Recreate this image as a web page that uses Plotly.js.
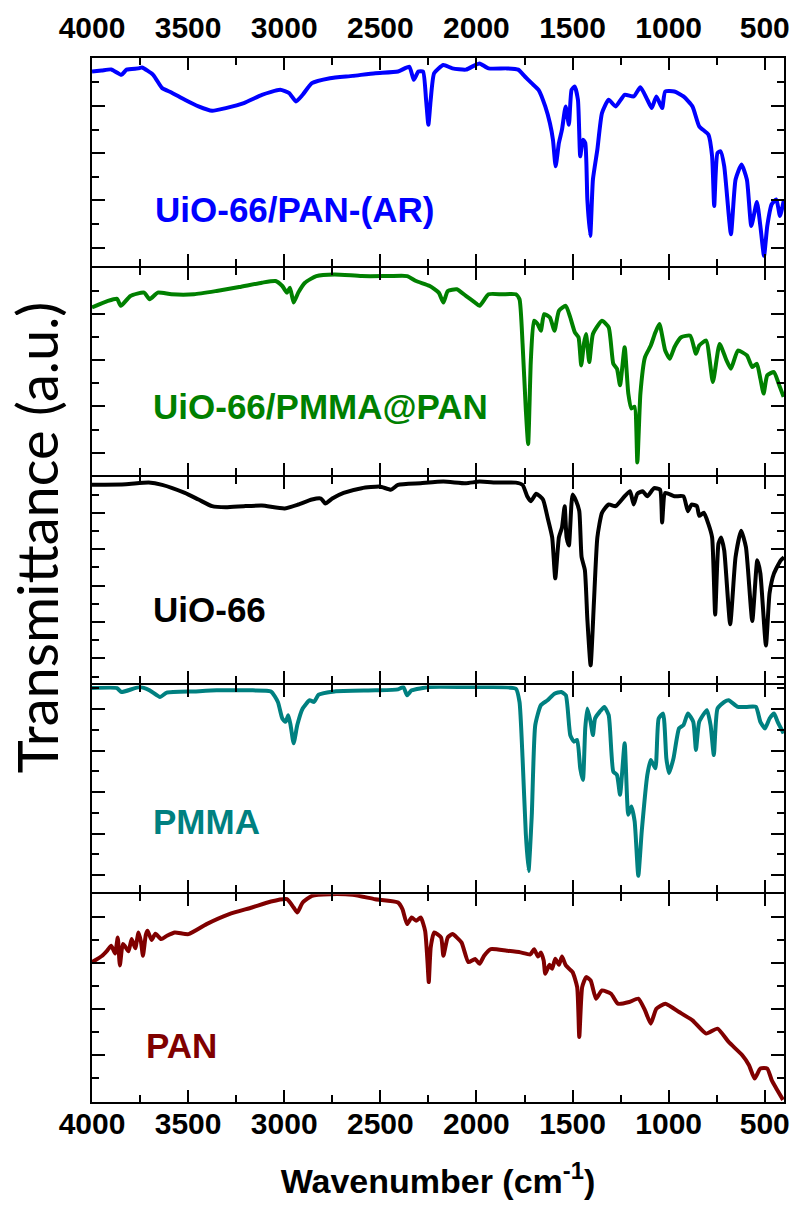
<!DOCTYPE html>
<html>
<head>
<meta charset="utf-8">
<script src="https://cdn.plot.ly/plotly-3.0.1.min.js"></script>
<style>html,body{margin:0;padding:0;background:#fff;}#chart{width:795px;height:1207px;}</style>
</head>
<body>
<div id="chart"></div>
<script>
// ---- Data (wavenumber in cm^-1, transmittance in arbitrary units, 0-100 per panel) ----
const uioPanAR_wn = [4000,3950,3900,3847,3820,3760,3740,3682,3635,3587,3517,3446,3375,3304,3210,3116,3021,2974,2939,2904,2856,2762,2644,2526,2408,2349,2326,2302,2278,2262,2250,2238,2220,2172,2125,2055,2007,1984,1937,1842,1783,1748,1713,1677,1642,1618,1602,1588,1571,1555,1536,1519,1505,1489,1472,1460,1446,1434,1423,1408,1394,1371,1347,1312,1276,1229,1182,1147,1111,1088,1064,1034,1018,970,923,876,841,793,774,763,746,730,711,676,652,621,593,570,541,523,504,487,464,440,421,400];
const uioPanAR_T  = [93.5,94.0,94.5,91.9,94.4,95.0,95.4,91.9,85.5,83.4,79.9,76.7,74.6,75.9,78.3,82.3,84.7,83.1,79.1,82.3,87.9,90.3,91.4,92.7,93.5,95.8,89.5,93.5,93.5,79.9,67.9,79.9,92.7,96.6,95.0,94.4,96.6,97.4,95.0,95.0,94.4,91.1,87.9,84.7,76.7,68.7,60.7,47.9,59.1,65.5,76.7,67.9,84.7,86.3,79.9,52.7,60.7,59.1,31.9,14.4,41.5,55.9,73.5,79.9,76.7,82.3,81.5,85.9,79.9,75.9,81.5,75.9,83.9,83.9,81.5,76.7,67.1,63.1,52.7,28.8,54.3,55.1,47.9,15.2,41.5,48.7,41.5,19.2,30.7,19.2,4.8,19.2,29.6,31.9,24.0,31.9];

const uioPmmaPan_wn = [4000,3917,3870,3850,3800,3729,3700,3658,3587,3469,3352,3234,3116,3045,3010,2986,2970,2951,2927,2892,2833,2738,2597,2455,2361,2314,2243,2196,2172,2149,2102,2055,2007,1984,1937,1866,1795,1776,1760,1743,1731,1717,1701,1682,1665,1648,1618,1594,1571,1535,1512,1488,1469,1455,1441,1430,1413,1394,1347,1312,1288,1269,1253,1229,1210,1194,1177,1163,1147,1123,1093,1069,1048,1018,994,970,935,888,858,841,805,770,735,699,676,640,593,565,541,523,506,487,452,428,402];
const uioPmmaPan_T  = [80.8,84.0,85.0,81.6,86.4,88.0,84.8,88.0,87.2,87.2,88.8,90.7,92.8,93.6,91.2,88.0,90.4,83.2,88.0,92.8,96.0,96.8,96.0,96.0,96.0,93.6,91.2,88.0,83.2,88.8,89.6,86.4,83.2,81.6,87.2,87.2,87.2,84.8,63.2,31.2,14.7,55.2,74.4,72.8,69.6,77.6,76.0,69.6,79.2,81.6,76.0,68.8,66.4,52.8,63.2,68.0,54.4,68.0,74.4,71.2,53.6,51.2,43.2,61.6,39.2,32.0,32.8,5.9,39.2,56.8,62.4,68.8,72.8,60.0,56.0,61.6,66.4,67.2,58.4,62.4,64.8,44.8,63.2,55.2,51.2,60.0,57.6,52.0,53.6,46.4,39.2,48.0,49.6,44.0,37.6];

const uio66_wn = [4000,3823,3705,3635,3517,3446,3375,3304,3210,3116,2998,2927,2856,2809,2786,2750,2691,2597,2503,2444,2408,2290,2172,2055,1984,1889,1795,1760,1736,1717,1689,1654,1630,1606,1590,1571,1555,1541,1531,1519,1500,1481,1465,1453,1436,1423,1406,1389,1371,1347,1312,1276,1229,1201,1182,1163,1135,1111,1076,1045,1034,1018,970,923,900,881,853,841,817,793,774,758,741,727,711,680,652,623,598,565,539,523,494,475,452,417,400];
const uio66_T  = [96.0,96.3,97.1,96.0,92.1,88.9,85.7,85.2,85.7,86.0,84.6,86.5,88.9,89.4,87.0,89.4,92.1,94.4,95.2,93.7,96.0,96.8,97.6,96.8,97.6,97.1,97.1,96.0,90.5,88.1,91.7,88.9,80.2,70.6,50.8,70.6,75.4,85.7,70.6,66.7,91.3,88.1,83.3,61.1,54.8,31.0,8.7,38.9,70.6,82.5,86.5,85.7,90.5,92.9,86.5,91.7,92.9,90.5,94.4,93.7,77.8,92.1,90.5,90.5,83.3,86.5,85.7,81.0,82.5,77.0,70.6,33.3,67.5,70.6,64.3,28.6,61.1,73.8,65.9,30.2,59.5,53.2,18.3,43.7,53.2,59.5,61.0];

const pmma_wn = [4000,3870,3847,3752,3700,3646,3611,3469,3352,3163,3069,3033,3010,2993,2979,2967,2951,2932,2904,2868,2845,2821,2738,2526,2408,2380,2361,2337,2243,2055,1937,1795,1776,1760,1743,1729,1712,1694,1665,1630,1594,1559,1535,1512,1493,1476,1460,1446,1434,1423,1406,1394,1383,1359,1335,1312,1288,1269,1253,1229,1210,1194,1177,1158,1140,1111,1093,1069,1052,1029,1012,998,975,946,923,900,872,858,841,801,782,765,746,711,688,640,593,546,523,499,475,452,433,402];
const pmma_T  = [98.7,98.7,96.8,99.2,97.6,94.4,96.5,97.1,97.6,97.6,97.1,92.0,84.0,82.4,85.6,80.8,72.0,80.8,88.8,92.8,92.0,95.5,97.1,97.6,98.1,99.2,95.2,97.6,99.2,99.2,99.2,98.4,92.0,64.7,27.9,10.3,37.5,80.8,90.4,92.8,96.0,96.8,95.2,76.0,72.8,73.6,59.9,54.3,79.2,88.8,82.4,76.0,84.0,87.2,89.6,85.6,58.3,56.7,47.1,72.0,37.5,41.5,34.3,7.9,29.5,56.7,63.9,59.9,84.0,86.4,64.7,57.5,64.7,79.2,80.8,86.4,82.4,68.8,82.4,88.0,80.8,66.3,88.8,92.0,92.8,89.6,89.6,89.6,82.4,79.2,84.0,86.4,82.4,76.8];

const pan_wn = [4000,3947,3920,3900,3880,3866,3855,3840,3830,3810,3794,3775,3758,3745,3735,3720,3711,3690,3670,3640,3610,3569,3498,3404,3286,3168,3069,2986,2951,2932,2904,2856,2762,2644,2526,2408,2385,2361,2337,2314,2290,2267,2255,2248,2238,2220,2184,2172,2149,2125,2078,2042,2007,1984,1960,1925,1842,1771,1720,1700,1680,1665,1650,1642,1620,1606,1590,1571,1555,1535,1500,1476,1465,1450,1429,1406,1378,1347,1300,1264,1205,1158,1123,1093,1064,1017,946,876,805,746,688,617,582,553,523,487,464,440,405];
const pan_T  = [67.3,70.4,73.0,75.2,71.5,79.2,65.7,76.0,75.2,72.5,78.4,74.0,81.6,77.0,70.4,80.5,82.4,78.0,81.0,78.4,80.0,81.6,80.8,85.6,90.4,93.6,96.5,97.6,93.6,91.2,96.0,99.2,100,99.7,97.6,96.0,92.8,85.6,88.8,87.2,88.8,82.4,68.1,57.7,74.4,81.6,79.2,70.4,79.2,80.8,76.8,67.3,68.8,66.5,70.4,73.6,72.8,72.0,71.0,73.5,70.0,72.0,68.0,61.7,66.0,64.1,69.0,66.0,70.0,65.7,62.5,55.3,31.3,55.3,60.1,58.5,49.7,53.7,52.1,47.3,48.1,49.7,44.1,37.7,44.9,47.3,43.3,39.3,32.9,35.3,28.9,22.5,17.7,11.3,16.1,16.1,10.5,6.5,1.0];

const sampleNames = ['UiO-66/PAN-(AR)', 'UiO-66/PMMA@PAN', 'UiO-66', 'PMMA', 'PAN'];
const xTickRange = [4000, 400];

// ---- Styling ----
const colors = ['#0000ff', '#008000', '#000000', '#008080', '#800000'];
const series = [
  [uioPanAR_wn, uioPanAR_T],
  [uioPmmaPan_wn, uioPmmaPan_T],
  [uio66_wn, uio66_T],
  [pmma_wn, pmma_T],
  [pan_wn, pan_T]
];
// y tick styling per panel (tick0, dtick)
const yTickStyle = [[8.8, 22.7], [10.6, 22.4], [12.1, 17.6], [8.2, 20.1], [22.5, 22.1]];

const boldFont = 'Liberation Sans, Arial, Helvetica, sans-serif';
const gap = 2 / 1044; // so neighbouring frame lines coincide

const traces = series.map((s, i) => ({
  x: s[0], y: s[1], type: 'scatter', mode: 'lines',
  xaxis: i === 0 ? 'x' : 'x' + (i + 1),
  yaxis: i === 0 ? 'y' : 'y' + (i + 1),
  line: {color: colors[i], width: 4, shape: 'spline', smoothing: 0.5},
  hoverinfo: 'skip', name: sampleNames[i]
}));

const layout = {
  width: 795, height: 1207,
  margin: {l: 92, r: 11, t: 58, b: 105},
  paper_bgcolor: '#fff', plot_bgcolor: '#fff',
  showlegend: false,
  annotations: []
};

for (let i = 0; i < 5; i++) {
  const xa = {
    range: xTickRange, tick0: 500, dtick: 500,
    ticks: 'inside', ticklen: 12, tickwidth: 2, tickcolor: '#000',
    showline: true, linewidth: 2, linecolor: '#000', mirror: 'ticks',
    showgrid: false, zeroline: false,
    minor: {tick0: 500, dtick: 250, ticks: 'inside', ticklen: 7, tickwidth: 2, tickcolor: '#000', showgrid: false},
    tickfont: {family: boldFont, size: 30, weight: 'bold', color: '#000'},
    anchor: i === 0 ? 'y' : 'y' + (i + 1),
    showticklabels: (i === 0 || i === 4)
  };
  if (i > 0) xa.matches = 'x';
  if (i === 0) { xa.side = 'top'; xa.ticklabelstandoff = 6; }
  if (i === 4) {
    xa.side = 'bottom';
    xa.ticklabelstandoff = -6;
    xa.title = {text: 'Wavenumber (cm<sup>-1</sup>)', font: {family: boldFont, size: 34, weight: 'bold', color: '#000'}, standoff: 30};
  }
  const lo = (4 - i) * 0.2 + (i < 4 ? gap / 2 : 0);
  const hi = (5 - i) * 0.2 - (i > 0 ? gap / 2 : 0);
  const ya = {
    domain: [lo, hi],
    range: [0, 100],
    tick0: yTickStyle[i][0], dtick: yTickStyle[i][1],
    ticks: 'inside', ticklen: 13, tickwidth: 2, tickcolor: '#000',
    showline: true, linewidth: 2, linecolor: '#000', mirror: 'ticks',
    showgrid: false, zeroline: false, showticklabels: false,
    minor: {tick0: yTickStyle[i][0], dtick: yTickStyle[i][1] / 2, ticks: 'inside', ticklen: 7, tickwidth: 2, tickcolor: '#000', showgrid: false},
    anchor: i === 0 ? 'x' : 'x' + (i + 1)
  };
  layout[i === 0 ? 'xaxis' : 'xaxis' + (i + 1)] = xa;
  layout[i === 0 ? 'yaxis' : 'yaxis' + (i + 1)] = ya;
}

// Panel labels
const labelPos = [[0.088, 0.855], [0.085, 0.666], [0.085, 0.472], [0.085, 0.269], [0.075, 0.054]];
sampleNames.forEach((n, i) => {
  layout.annotations.push({
    text: n, xref: 'paper', yref: 'paper', x: labelPos[i][0], y: labelPos[i][1],
    xanchor: 'left', yanchor: 'middle', showarrow: false,
    font: {family: boldFont, size: 35, weight: 'bold', color: colors[i]}
  });
});
// Y axis title
layout.annotations.push({
  text: 'Transmittance (a.u.)', xref: 'paper', yref: 'paper', x: -0.081, y: 0.541,
  xanchor: 'center', yanchor: 'middle', textangle: -90, showarrow: false,
  font: {family: 'Lato, Carlito, Open Sans, sans-serif', size: 56, color: '#000'}
});

Plotly.newPlot('chart', traces, layout, {staticPlot: true, displayModeBar: false});
</script>
</body>
</html>
